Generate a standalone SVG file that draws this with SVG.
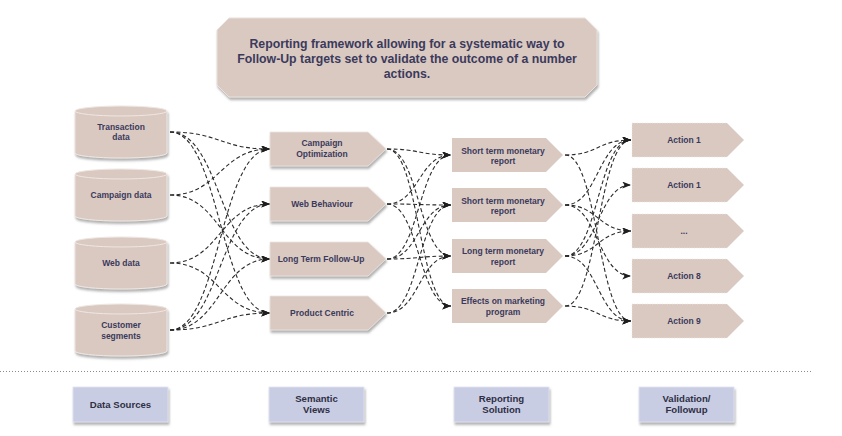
<svg xmlns="http://www.w3.org/2000/svg" width="842" height="436" viewBox="0 0 842 436">
<defs>
<filter id="sh" x="-10%" y="-10%" width="125%" height="140%">
<feDropShadow dx="1" dy="2.5" stdDeviation="1" flood-color="#707070" flood-opacity="0.55"/>
</filter>
<marker id="ah" viewBox="0 0 10 8" refX="10" refY="4" markerWidth="9" markerHeight="7" markerUnits="userSpaceOnUse" orient="auto">
<path d="M0,0 L10,4 L0,8 L2.5,4 z" fill="#1e1e1e"/>
</marker>
<style>
text{font-family:"Liberation Sans",Arial,sans-serif;font-weight:bold;fill:#3a3a5c;text-anchor:middle}
.t{font-size:12.3px}
.n{font-size:8.5px}
.b{font-size:9.6px;fill:#2f2f45}
.box{fill:#dac9c1}
.cyl{fill:#dac9c1;stroke:#eee6e2;stroke-width:1}
.lip{fill:none;stroke:#efe7e3;stroke-width:1}
.sv{fill:#dac9c1;stroke:#ece3df;stroke-width:0.8}
.act{fill:#dac9c1;stroke:#eee8e5;stroke-width:0.8;stroke-dasharray:1 1.5}
.leg{fill:#c9cde3;stroke:#e2e4f0;stroke-width:0.8}
.c{fill:none;stroke:#2a2a2a;stroke-width:1.1;stroke-dasharray:4 2.5;marker-end:url(#ah)}
</style>
</defs>

<g id="title" filter="url(#sh)">
<polygon points="229,18 585,18 597,30 597,85 585,97 229,97 217,85 217,30" fill="#dac9c1" stroke="#eae1dc" stroke-width="1"/>
</g>
<g id="title-text">
<text class="t" x="407" y="47.5">Reporting framework allowing for a systematic way to</text>
<text class="t" x="407" y="62.5">Follow-Up targets set to validate the outcome of a number</text>
<text class="t" x="407" y="77.5">actions.</text>
</g>

<g id="connectors">
<path class="c" d="M170,132 C220,132 220,149 270,149"/>
<path class="c" d="M170,132 C220,132 220,259 270,259"/>
<path class="c" d="M170,132 C220,132 220,313 270,313"/>
<path class="c" d="M170,195 C220,195 220,149 270,149"/>
<path class="c" d="M170,195 C220,195 220,259 270,259"/>
<path class="c" d="M170,263 C220,263 220,204 270,204"/>
<path class="c" d="M170,263 C220,263 220,313 270,313"/>
<path class="c" d="M170,330 C220,330 220,149 270,149"/>
<path class="c" d="M170,330 C220,330 220,204 270,204"/>
<path class="c" d="M170,330 C220,330 220,259 270,259"/>
<path class="c" d="M170,330 C220,330 220,313 270,313"/>

<path class="c" d="M387,149 C419,149 419,155 451,155"/>
<path class="c" d="M387,149 C419,149 419,256 451,256"/>
<path class="c" d="M387,149 C419,149 419,306 451,306"/>
<path class="c" d="M387,204 C419,204 419,155 451,155"/>
<path class="c" d="M387,204 C419,204 419,205 451,205"/>
<path class="c" d="M387,204 C419,204 419,306 451,306"/>
<path class="c" d="M387,259 C419,259 419,155 451,155"/>
<path class="c" d="M387,259 C419,259 419,205 451,205"/>
<path class="c" d="M387,259 C419,259 419,256 451,256"/>
<path class="c" d="M387,313 C419,313 419,205 451,205"/>
<path class="c" d="M387,313 C419,313 419,256 451,256"/>

<path class="c" d="M565,155 C598,155 598,140 631,140"/>
<path class="c" d="M565,155 C598,155 598,321 631,321"/>
<path class="c" d="M565,205 C598,205 598,140 631,140"/>
<path class="c" d="M565,205 C598,205 598,231 631,231"/>
<path class="c" d="M565,205 C598,205 598,276 631,276"/>
<path class="c" d="M565,256 C598,256 598,140 631,140"/>
<path class="c" d="M565,256 C598,256 598,185 631,185"/>
<path class="c" d="M565,256 C598,256 598,231 631,231"/>
<path class="c" d="M565,256 C598,256 598,321 631,321"/>
<path class="c" d="M565,306 C598,306 598,140 631,140"/>
<path class="c" d="M565,306 C598,306 598,321 631,321"/>
</g>

<g id="src-transaction">
<path class="cyl" filter="url(#sh)" d="M75,111 A46,5 0 0 1 167,111 V153 A46,5 0 0 1 75,153 Z"/>
<path class="lip" d="M75,111 A46,5 0 0 0 167,111"/>
<text class="n" x="121" y="129.5">Transaction</text>
<text class="n" x="121" y="140">data</text>
</g>
<g id="src-campaign">
<path class="cyl" filter="url(#sh)" d="M75,174 A46,5 0 0 1 167,174 V216 A46,5 0 0 1 75,216 Z"/>
<path class="lip" d="M75,174 A46,5 0 0 0 167,174"/>
<text class="n" x="121" y="198">Campaign data</text>
</g>
<g id="src-web">
<path class="cyl" filter="url(#sh)" d="M75,242 A46,5 0 0 1 167,242 V284 A46,5 0 0 1 75,284 Z"/>
<path class="lip" d="M75,242 A46,5 0 0 0 167,242"/>
<text class="n" x="121" y="266">Web data</text>
</g>
<g id="src-customer">
<path class="cyl" filter="url(#sh)" d="M75,309 A46,5 0 0 1 167,309 V351 A46,5 0 0 1 75,351 Z"/>
<path class="lip" d="M75,309 A46,5 0 0 0 167,309"/>
<text class="n" x="121" y="328">Customer</text>
<text class="n" x="121" y="338.5">segments</text>
</g>

<g id="sv-campaign">
<path class="sv" filter="url(#sh)" d="M270,132 H368 L386,149 L368,166 H270 Z"/>
<text class="n" x="322" y="146">Campaign</text>
<text class="n" x="322" y="156.5">Optimization</text>
</g>
<g id="sv-web">
<path class="sv" filter="url(#sh)" d="M270,187 H368 L386,204 L368,221 H270 Z"/>
<text class="n" x="322" y="207">Web Behaviour</text>
</g>
<g id="sv-longterm">
<path class="sv" filter="url(#sh)" d="M270,242 H368 L386,259 L368,276 H270 Z"/>
<text class="n" x="321" y="262">Long Term Follow-Up</text>
</g>
<g id="sv-product">
<path class="sv" filter="url(#sh)" d="M270,296 H368 L386,313 L368,330 H270 Z"/>
<text class="n" x="322" y="316">Product Centric</text>
</g>

<g id="rep-short1">
<path class="box" d="M452,138 H546 L563,155 L546,172 H452 Z"/>
<text class="n" x="503" y="153.5">Short term monetary</text>
<text class="n" x="503" y="164">report</text>
</g>
<g id="rep-short2">
<path class="box" d="M452,188 H546 L563,205 L546,222 H452 Z"/>
<text class="n" x="503" y="203.5">Short term monetary</text>
<text class="n" x="503" y="214">report</text>
</g>
<g id="rep-long">
<path class="box" d="M452,239 H546 L563,256 L546,273 H452 Z"/>
<text class="n" x="503" y="254">Long term monetary</text>
<text class="n" x="503" y="264.5">report</text>
</g>
<g id="rep-effects">
<path class="box" d="M452,289 H546 L563,306 L546,323 H452 Z"/>
<text class="n" x="503" y="304">Effects on marketing</text>
<text class="n" x="503" y="314.5">program</text>
</g>

<g id="act-1">
<path class="act" d="M632,123 H727 L744,140 L727,157 H632 Z"/>
<text class="n" x="684" y="143">Action 1</text>
</g>
<g id="act-2">
<path class="act" d="M632,168 H727 L744,185 L727,202 H632 Z"/>
<text class="n" x="684" y="188">Action 1</text>
</g>
<g id="act-3">
<path class="act" d="M632,214 H727 L744,231 L727,248 H632 Z"/>
<text class="n" x="684" y="234">...</text>
</g>
<g id="act-8">
<path class="act" d="M632,259 H727 L744,276 L727,293 H632 Z"/>
<text class="n" x="684" y="279">Action 8</text>
</g>
<g id="act-9">
<path class="act" d="M632,304 H727 L744,321 L727,338 H632 Z"/>
<text class="n" x="684" y="324">Action 9</text>
</g>

<line x1="0" y1="371.5" x2="812" y2="371.5" stroke="#8a8a8a" stroke-width="1" stroke-dasharray="1 2"/>

<g id="leg-sources">
<rect class="leg" filter="url(#sh)" x="73" y="387" width="95" height="35"/>
<text class="b" x="120.5" y="407.5">Data Sources</text>
</g>
<g id="leg-semantic">
<rect class="leg" filter="url(#sh)" x="269" y="387" width="95" height="35"/>
<text class="b" x="316.5" y="401.5">Semantic</text>
<text class="b" x="316.5" y="413">Views</text>
</g>
<g id="leg-reporting">
<rect class="leg" filter="url(#sh)" x="454" y="387" width="95" height="35"/>
<text class="b" x="501.5" y="401.5">Reporting</text>
<text class="b" x="501.5" y="413">Solution</text>
</g>
<g id="leg-validation">
<rect class="leg" filter="url(#sh)" x="639" y="387" width="95" height="35"/>
<text class="b" x="686.5" y="401.5">Validation/</text>
<text class="b" x="686.5" y="413">Followup</text>
</g>
</svg>
